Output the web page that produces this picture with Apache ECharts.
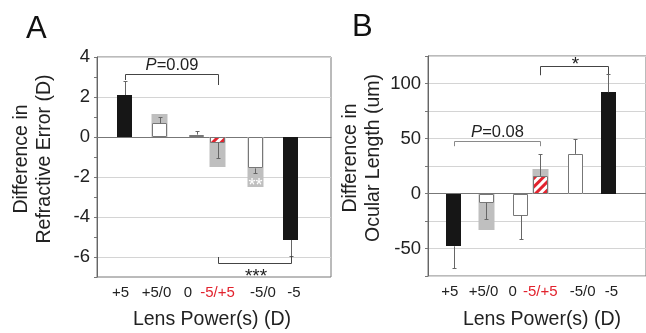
<!DOCTYPE html>
<html><head><meta charset="utf-8">
<script src="https://cdn.jsdelivr.net/npm/echarts@6/dist/echarts.min.js"></script>
<style>html,body{margin:0;padding:0;background:#fff}#c{width:646px;height:333px}</style>
</head><body><div id="c"></div>
<script>
// ---- data ----
const categories = ['+5', '+5/0', '0', '-5/+5', '-5/0', '-5'];
const barKinds = ['solid', 'open', 'open', 'striped', 'open', 'solid'];

const refractiveMean   = [2.1, 0.68, 0.12, -0.28, -1.57, -5.15];
const refractiveErrEnd = [2.8, 1.0, 0.3, -1.07, -1.78, -5.95];
const refractiveShade  = [null, 1.13, null, -1.5, -2.48, null];
const refractiveTicks  = [-6, -4, -2, 0, 2, 4];

const ocularMean   = [-48, -8.5, -20, 16, 36, 92];
const ocularErrEnd = [-67.6, -23, -41.5, 36, 50, 108.5];
const ocularShade  = [null, -33, null, 22, null, null];
const ocularTicks  = [-50, 0, 50, 100];

const bracketsA = [
  {from: 0, to: 3, level: 3.15, endFrom: 2.85, endTo: 2.6, text: 'P=0.09', above: true},
  {from: 3, to: 5, level: -6.32, endFrom: -6.0, endTo: -5.95, text: '***', above: false}
];
const bracketsB = [
  {from: 0, to: 3, level: 48, endFrom: 43, endTo: 43, text: 'P=0.08', above: true, gray: true},
  {from: 3, to: 5, level: 115.7, endFrom: 107.5, endTo: 108.5, text: '*', above: true}
];
const notesA = [{cat: 4, value: -2.2, text: '**'}];
const notesB = [];

// ---- layout (x slots on a hidden value axis, 1 unit = 10px) ----
const barPos   = [2.75, 6.25, 9.95, 12.05, 15.8, 19.35];
const labelPos = [2.35, 5.95, 9.1, 12.05, 16.6, 19.7];
const BAR_W = 15;
const FONT = '"Liberation Sans", Arial, Helvetica, sans-serif';
const RED = '#e2232e';

function clipHalf(poly, f) {
  const out = [];
  for (let i = 0; i < poly.length; i++) {
    const p = poly[i], q = poly[(i + 1) % poly.length];
    const fp = f(p), fq = f(q);
    if (fp >= 0) out.push(p);
    if ((fp >= 0) !== (fq >= 0)) {
      const t = fp / (fp - fq);
      out.push([p[0] + t * (q[0] - p[0]), p[1] + t * (q[1] - p[1])]);
    }
  }
  return out;
}
// diagonal "/" red stripes clipped to a bar rectangle
function stripes(x0, y0, x1, y1) {
  const rect = [[x0, y0], [x1, y0], [x1, y1], [x0, y1]];
  const P = 8.5, W = 4.2, els = [];
  const cStart = x0 + y1 - Math.ceil(((x0 + y1) - (x0 + y0)) / P + 1) * P;
  for (let c = cStart; c <= x1 + y1; c += P) {
    let poly = clipHalf(rect, p => p[0] + p[1] - c);
    poly = clipHalf(poly, p => c + W - (p[0] + p[1]));
    if (poly.length >= 3) els.push({type: 'polygon', shape: {points: poly}, style: {fill: RED}});
  }
  return els;
}

function barSeries(ai, means, shade) {
  return {type: 'custom', xAxisIndex: ai, yAxisIndex: ai, z: 3, silent: true,
    data: means.map((m, i) => [barPos[i], m, shade[i] == null ? '-' : shade[i]]),
    renderItem(params, api) {
      const i = params.dataIndex, kind = barKinds[i];
      const x = api.value(0), m = api.value(1), s = api.value(2);
      const base = api.coord([x, 0]);
      const left = Math.round(base[0] - BAR_W / 2), right = left + BAR_W;
      const zeroY = Math.round(base[1]);
      const children = [];
      if (!isNaN(s)) {
        const ps = Math.round(api.coord([x, s])[1]);
        children.push({type: 'rect', shape: {x: left - 0.5, y: Math.min(ps, zeroY), width: BAR_W + 1, height: Math.abs(ps - zeroY)},
          style: {fill: '#bfbfbf'}});
      }
      const pm = Math.round(api.coord([x, m])[1]);
      const top = Math.min(pm, zeroY), bot = Math.max(pm, zeroY);
      if (kind === 'solid') {
        children.push({type: 'rect', shape: {x: left, y: top, width: BAR_W, height: bot - top}, style: {fill: '#161616'}});
      } else {
        children.push({type: 'rect', shape: {x: left, y: top, width: BAR_W, height: bot - top}, style: {fill: '#fff'}});
        if (kind === 'striped') children.push(...stripes(left, top, right, bot));
        children.push({type: 'rect', shape: {x: left + 0.5, y: top + 0.5, width: BAR_W - 1, height: bot - top - 1},
          style: {fill: null, stroke: '#777', lineWidth: 1}});
      }
      return {type: 'group', children: children};
    }};
}
function errorSeries(ai, means, ends) {
  return {type: 'custom', xAxisIndex: ai, yAxisIndex: ai, z: 5, silent: true,
    data: means.map((m, i) => [barPos[i], m, ends[i]]),
    renderItem(params, api) {
      const p0 = api.coord([api.value(0), api.value(1)]);
      const p1 = api.coord([api.value(0), api.value(2)]);
      const x = Math.round(p0[0]) + 0.5, ye = Math.round(p1[1]) + 0.5;
      return {type: 'group', children: [
        {type: 'line', shape: {x1: x, y1: p0[1], x2: x, y2: ye}, style: {stroke: '#666', lineWidth: 1}},
        {type: 'line', shape: {x1: x - 2, y1: ye, x2: x + 2, y2: ye}, style: {stroke: '#666', lineWidth: 1}}
      ]};
    }};
}
function bracketSeries(ai, list) {
  return {type: 'custom', xAxisIndex: ai, yAxisIndex: ai, z: 6, silent: true,
    data: list.map(b => [(barPos[b.from] + barPos[b.to]) / 2, b.level]),
    renderItem(params, api) {
      const b = list[params.dataIndex];
      const a = api.coord([barPos[b.from], b.level]);
      const c = api.coord([barPos[b.to], b.level]);
      const ea = api.coord([barPos[b.from], b.endFrom]);
      const ec = api.coord([barPos[b.to], b.endTo]);
      const xa = Math.round(a[0]) + 0.5, xc = Math.round(c[0]) + 0.5, y = Math.round(a[1]) + 0.5;
      const col = b.gray ? '#8a8a8a' : '#444';
      const isP = b.text.indexOf('P=') === 0;
      const txt = isP ? '{i|P}' + b.text.slice(1) : b.text;
      const stars = !isP;
      return {type: 'group', children: [
        {type: 'polyline', shape: {points: [[xa, ea[1]], [xa, y], [xc, y], [xc, ec[1]]]},
          style: {stroke: col, lineWidth: 1, fill: null}},
        {type: 'text', style: {
          text: txt, x: (xa + xc) / 2 + (stars ? 1 : 0),
          y: b.above ? (stars ? y - 2 : y - 9) : y + 13,
          align: 'center', verticalAlign: 'middle',
          fontSize: stars ? 19 : 16.5, fontFamily: FONT, fill: '#222',
          rich: {i: {fontStyle: 'italic', fontSize: 16.5, fontFamily: FONT, fill: '#222'}}
        }}
      ]};
    }};
}
function noteSeries(ai, list) {
  return {type: 'custom', xAxisIndex: ai, yAxisIndex: ai, z: 7, silent: true,
    data: list.map(n => [barPos[n.cat], n.value]),
    renderItem(params, api) {
      const n = list[params.dataIndex];
      const p = api.coord([api.value(0), api.value(1)]);
      return {type: 'text', style: {text: n.text, x: p[0] + 0.5, y: p[1] + 5, align: 'center', verticalAlign: 'middle',
        fontSize: 18, fontFamily: FONT, fill: '#fff'}};
    }};
}
function labelSeries(ai, yMin) {
  return {type: 'custom', xAxisIndex: ai, yAxisIndex: ai, z: 7, silent: true,
    data: categories.map((c, i) => [labelPos[i], yMin]),
    renderItem(params, api) {
      const i = params.dataIndex;
      const p = api.coord([api.value(0), api.value(1)]);
      return {type: 'text', style: {text: categories[i], x: p[0], y: p[1] + 16, align: 'center', verticalAlign: 'middle',
        fontSize: 15, fontFamily: FONT, fill: barKinds[i] === 'striped' ? RED : '#222'}};
    }};
}

function xAxisFor(ai) {
  return {gridIndex: ai, type: 'value', min: 0, max: 23.4,
    axisLine: {show: true, onZero: true, lineStyle: {color: '#777', width: 1}},
    axisTick: {show: false}, axisLabel: {show: false}, splitLine: {show: false}};
}
function yAxisFor(ai, min, max, interval, ticks, gridColors) {
  return {gridIndex: ai, type: 'value', min: min, max: max, interval: interval,
    axisLine: {show: true, lineStyle: {color: '#666'}},
    axisTick: {show: true, length: 3, lineStyle: {color: '#777'}},
    axisLabel: {formatter: v => ticks.indexOf(v) >= 0 ? String(v) : '', fontSize: 18.5, color: '#222', margin: 7, fontFamily: FONT},
    splitLine: {show: true, lineStyle: {color: gridColors, width: 1}}};
}
function titleText(x, y, text, rotate) {
  return {type: 'text', x: x, y: y, rotation: rotate ? Math.PI / 2 : 0,
    style: {text: text, align: 'center', verticalAlign: 'middle', fontSize: 19.5, lineHeight: 23, fontFamily: FONT, fill: '#222'}};
}

const chart = echarts.init(document.getElementById('c'), null, {renderer: 'canvas'});
chart.setOption({
  animation: false,
  backgroundColor: '#fff',
  grid: [
    {left: 97, top: 57, width: 234, height: 220, show: true, borderColor: '#777', borderWidth: 1, containLabel: false},
    {left: 428, top: 56, width: 234, height: 220, show: true, borderColor: '#777', borderWidth: 1, containLabel: false}
  ],
  xAxis: [xAxisFor(0), xAxisFor(1)],
  yAxis: [
    yAxisFor(0, -7, 4, 1, refractiveTicks, ['rgba(0,0,0,0)', '#d4d4d4']),
    yAxisFor(1, -75, 125, 25, ocularTicks, ['#d4d4d4'])
  ],
  graphic: [
    {type: 'text', left: 26, top: 14, style: {text: 'A', fontSize: 31, fontFamily: FONT, fill: '#111'}},
    {type: 'text', left: 352, top: 12, style: {text: 'B', fontSize: 31, fontFamily: FONT, fill: '#111'}},
    titleText(33, 159, 'Difference in\nRefractive Error (D)', true),
    titleText(362, 158, 'Difference in\nOcular Length (um)', true),
    titleText(212, 320, 'Lens Power(s) (D)', false),
    titleText(542, 320, 'Lens Power(s) (D)', false)
  ],
  series: [
    barSeries(0, refractiveMean, refractiveShade), errorSeries(0, refractiveMean, refractiveErrEnd),
    bracketSeries(0, bracketsA), noteSeries(0, notesA), labelSeries(0, -7),
    barSeries(1, ocularMean, ocularShade), errorSeries(1, ocularMean, ocularErrEnd),
    bracketSeries(1, bracketsB), noteSeries(1, notesB), labelSeries(1, -75)
  ]
});
</script></body></html>
